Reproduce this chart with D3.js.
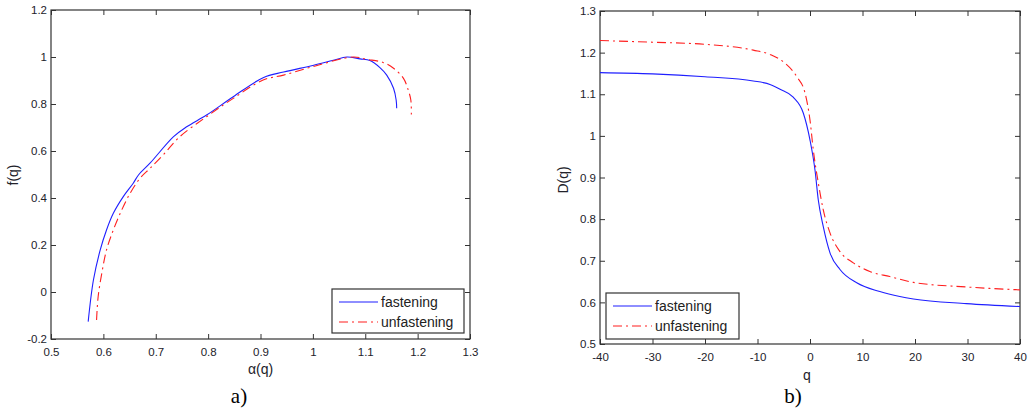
<!DOCTYPE html>
<html lang="en">
<head>
<meta charset="UTF-8">
<title>Multifractal spectra</title>
<style>
  body { margin: 0; background: #fff; }
  svg { display: block; }
  .tick text { font-family: Arial, "Liberation Sans", sans-serif; font-size: 11.5px; fill: #22222a; }
  .lbl { font-family: Arial, "Liberation Sans", sans-serif; font-size: 14px; fill: #22222a; }
  .leg { font-family: Arial, "Liberation Sans", sans-serif; font-size: 14px; fill: #222; }
  .cap { font-family: "Liberation Serif", "Times New Roman", serif; font-size: 21px; fill: #000; }
</style>
</head>
<body>
<svg id="chart" width="1034" height="409"></svg>
<script src="https://d3js.org/d3.v7.min.js"></script>
<script>
// panel a) f(q) against alpha(q)
const alphaFast = [0.571, 0.581, 0.594, 0.606, 0.619, 0.638, 0.657, 0.667, 0.689, 0.734, 0.759, 0.797, 0.848, 0.905, 0.944, 1.000, 1.039, 1.065, 1.090, 1.109, 1.128, 1.141, 1.154, 1.159, 1.160];
const fFast     = [-0.126, 0.051, 0.179, 0.264, 0.335, 0.406, 0.463, 0.498, 0.548, 0.661, 0.703, 0.753, 0.831, 0.912, 0.936, 0.964, 0.986, 1.000, 0.992, 0.985, 0.955, 0.923, 0.867, 0.817, 0.782];
const alphaUnf  = [0.587, 0.590, 0.597, 0.606, 0.619, 0.635, 0.651, 0.670, 0.689, 0.714, 0.746, 0.797, 0.848, 0.905, 0.944, 1.000, 1.077, 1.103, 1.134, 1.154, 1.173, 1.182, 1.187, 1.188];
const fUnf      = [-0.119, -0.020, 0.080, 0.179, 0.264, 0.349, 0.420, 0.484, 0.526, 0.583, 0.661, 0.746, 0.824, 0.902, 0.923, 0.959, 1.000, 0.990, 0.977, 0.952, 0.909, 0.860, 0.817, 0.755];

// panel b) D(q) against q
const qFast = [-40, -30, -20, -10.8, -7.5, -5.7, -3.2, -1.28, 0, 0.95, 1.58, 2.53, 3.81, 5.71, 8.9, 13.3, 17.1, 19.7, 29.8, 40];
const dFast = [1.152, 1.149, 1.142, 1.132, 1.123, 1.112, 1.093, 1.055, 0.990, 0.918, 0.846, 0.782, 0.719, 0.679, 0.647, 0.626, 0.614, 0.608, 0.597, 0.590];
const qUnf  = [-40, -30, -20, -10.8, -7.5, -4.8, -2.5, -0.95, 0, 0.63, 1.58, 2.53, 3.81, 5.71, 8.25, 11.4, 15.2, 19.7, 29.8, 40];
const dUnf  = [1.229, 1.225, 1.220, 1.206, 1.195, 1.175, 1.142, 1.103, 1.038, 0.966, 0.887, 0.822, 0.767, 0.722, 0.695, 0.674, 0.662, 0.648, 0.637, 0.630];

const xTicksA = [0.5, 0.6, 0.7, 0.8, 0.9, 1, 1.1, 1.2, 1.3];
const yTicksA = [-0.2, 0, 0.2, 0.4, 0.6, 0.8, 1, 1.2];
const xTicksB = [-40, -30, -20, -10, 0, 10, 20, 30, 40];
const yTicksB = [0.5, 0.6, 0.7, 0.8, 0.9, 1, 1.1, 1.2, 1.3];
const seriesNames = ["fastening", "unfastening"];

const svg = d3.select("#chart");
const axisColor = "#333";
const fmt = d => String(+(+d).toFixed(2)); // plain hyphen minus, like matlab

function panel(opt) {
  const x = d3.scaleLinear().domain(opt.xDomain).range([opt.left, opt.right]);
  const y = d3.scaleLinear().domain(opt.yDomain).range([opt.bottom, opt.top]);
  const g = svg.append("g");

  // ticks on all four sides, pointing inward
  const tl = 5;
  g.append("g").attr("transform", `translate(0,${opt.bottom})`)
    .call(d3.axisBottom(x).tickValues(opt.xTicks).tickSize(-tl).tickPadding(9).tickFormat(fmt));
  g.append("g").attr("transform", `translate(0,${opt.top})`)
    .call(d3.axisTop(x).tickValues(opt.xTicks).tickSize(-tl).tickFormat(""));
  g.append("g").attr("transform", `translate(${opt.left},0)`)
    .call(d3.axisLeft(y).tickValues(opt.yTicks).tickSize(-tl).tickPadding(4).tickFormat(fmt));
  g.append("g").attr("transform", `translate(${opt.right},0)`)
    .call(d3.axisRight(y).tickValues(opt.yTicks).tickSize(-tl).tickFormat(""));
  g.selectAll(".domain").remove();
  g.selectAll(".tick line").attr("stroke", axisColor);

  g.append("rect")
    .attr("x", opt.left).attr("y", opt.top)
    .attr("width", opt.right - opt.left).attr("height", opt.bottom - opt.top)
    .attr("fill", "none").attr("stroke", axisColor).attr("stroke-width", 1.2);

  const line = d3.line().x(d => x(d[0])).y(d => y(d[1])).curve(opt.curve);
  const clipId = "clip" + opt.id;
  g.append("clipPath").attr("id", clipId).append("rect")
    .attr("x", opt.left).attr("y", opt.top)
    .attr("width", opt.right - opt.left).attr("height", opt.bottom - opt.top);

  g.append("path")
    .datum(d3.zip(opt.x1, opt.y1))
    .attr("d", line).attr("fill", "none")
    .attr("stroke", "#1f1fff").attr("stroke-width", 1.1)
    .attr("clip-path", `url(#${clipId})`);
  g.append("path")
    .datum(d3.zip(opt.x2, opt.y2))
    .attr("d", line).attr("fill", "none")
    .attr("stroke", "#ff1f1f").attr("stroke-width", 1.1)
    .attr("stroke-dasharray", "9,4,2,4")
    .attr("clip-path", `url(#${clipId})`);

  // axis labels
  g.append("text").attr("class", "lbl")
    .attr("x", (opt.left + opt.right) / 2 + opt.xLabelDx).attr("y", opt.xLabelY)
    .attr("text-anchor", "middle").text(opt.xLabel);
  g.append("text").attr("class", "lbl")
    .attr("transform", `translate(${opt.yLabelX},${opt.yLabelY}) rotate(-90)`)
    .attr("text-anchor", "middle").text(opt.yLabel);

  // legend
  const L = opt.legend;
  g.append("rect").attr("x", L.x).attr("y", L.y).attr("width", L.w).attr("height", L.h)
    .attr("fill", "#fff").attr("stroke", axisColor).attr("stroke-width", 1.2);
  seriesNames.forEach((name, i) => {
    const ly = L.y + 13 + i * 20;
    g.append("line")
      .attr("x1", L.x + 7).attr("x2", L.x + 46).attr("y1", ly).attr("y2", ly)
      .attr("stroke", i === 0 ? "#1f1fff" : "#ff1f1f").attr("stroke-width", 1.1)
      .attr("stroke-dasharray", i === 0 ? null : "9,4,2,4");
    g.append("text").attr("class", "leg")
      .attr("x", L.x + 49).attr("y", ly + 5).text(name);
  });

  // caption
  svg.append("text").attr("class", "cap")
    .attr("x", opt.capX).attr("y", 403).attr("text-anchor", "middle").text(opt.caption);
}

panel({
  id: "a", left: 51, right: 470, top: 10, bottom: 339,
  xDomain: [0.5, 1.3], yDomain: [-0.2, 1.2],
  xTicks: xTicksA, yTicks: yTicksA,
  x1: alphaFast, y1: fFast, x2: alphaUnf, y2: fUnf,
  curve: d3.curveCatmullRom.alpha(0.5),
  xLabel: "α(q)", xLabelDx: 0, xLabelY: 374,
  yLabel: "f(q)", yLabelX: 18, yLabelY: 175,
  legend: { x: 332, y: 289, w: 132, h: 44 },
  capX: 239, caption: "a)"
});

panel({
  id: "b", left: 600, right: 1020, top: 11, bottom: 344,
  xDomain: [-40, 40], yDomain: [0.5, 1.3],
  xTicks: xTicksB, yTicks: yTicksB,
  x1: qFast, y1: dFast, x2: qUnf, y2: dUnf,
  curve: d3.curveMonotoneX,
  xLabel: "q", xLabelDx: -3, xLabelY: 380,
  yLabel: "D(q)", yLabelX: 568, yLabelY: 180,
  legend: { x: 606, y: 293, w: 133, h: 46 },
  capX: 793, caption: "b)"
});
</script>
</body>
</html>
